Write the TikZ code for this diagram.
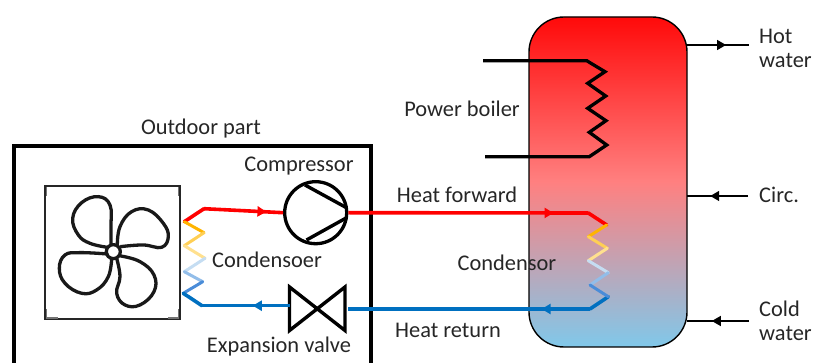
\documentclass[tikz,border=0pt]{standalone}
\usepackage{fontspec}
\setmainfont{Carlito}
\usetikzlibrary{arrows.meta,decorations.markings,calc}
\definecolor{pipered}{HTML}{FF0000}
\definecolor{pipeblue}{HTML}{0070C0}
\definecolor{zA}{HTML}{FFB400}
\definecolor{zB}{HTML}{FFCF55}
\definecolor{zC}{HTML}{FFE08E}
\definecolor{zD}{HTML}{C5DDF2}
\definecolor{zE}{HTML}{92BDE9}
\definecolor{zF}{HTML}{4A8CD8}
\definecolor{txt}{HTML}{262626}
\definecolor{tankTop}{HTML}{FF0A0A}
\definecolor{tankMid}{HTML}{FF8080}
\definecolor{tankBot}{HTML}{80C8EA}
\tikzset{
  lbl/.style={font=\fontsize{22.4}{26}\selectfont,text=txt,inner sep=0pt},
  lblL/.style={lbl,anchor=west},
  pipe/.style={line width=3.6pt,line join=miter},
  zig/.style={line width=3pt,line cap=round},
  thin conn/.style={line width=1.4pt},
  tipat/.style={postaction={decorate},decoration={markings,mark=at position #1 with {\arrow{Triangle[length=9pt,width=10pt]}}}},
  heavy/.style={line width=3.4pt,line join=miter},
}
\begin{document}
\begin{tikzpicture}[x=1pt,y=-1pt]
\useasboundingbox (0,0) rectangle (814,363);
\begin{scope}
\clip (0,0) rectangle (814,363);
% tank
\shadedraw[draw=black,line width=1.4pt,rounded corners=35pt,top color=tankTop,bottom color=tankBot,middle color=tankMid]
  (529,17) rectangle (687,347);
\coordinate (tankH) at (687,45);
\coordinate (tankC) at (687,196);
\coordinate (tankW) at (687,321);
\coordinate (hotE) at (749,45);
\coordinate (circE) at (748,196);
\coordinate (coldE) at (749,321);
\draw[thin conn,tipat=0.63] (tankH) -- (hotE);
\draw[thin conn,tipat=0.62] (circE) -- (tankC);
\draw[thin conn,tipat=0.6] (coldE) -- (tankW);
% outdoor box
\draw[line width=4pt] (14,146) rectangle (371,380);
% fan
\draw[line width=1.4pt,black!85] (45,186) rectangle (180,319);
\draw[line width=1.2pt,black!55]
  (46.5,187) -- (46.5,196) (46.5,309) -- (46.5,318) -- (58,318) (168,318) -- (178.5,318) -- (178.5,309) (178.5,187) -- (178.5,196);
\begin{scope}[x=0.3333pt,y=-0.3333pt,shift={(0,390)},line width=3.3pt,black!90,line cap=round,line join=round]
\node[circle,draw,line width=3.3pt,minimum size=14pt,inner sep=0pt,black!90] (hub) at (340,365) {};
\draw[black!90] plot[smooth,tension=0.7] coordinates {(333,345) (333,290) (330,225) (295,200) (245,218) (218,265) (235,315) (270,340) (322,352)};
\draw[black!90] plot[smooth,tension=0.7] coordinates {(352,346) (360,290) (395,245) (445,240) (490,280) (505,320) (485,352) (430,345) (362,350)};
\draw[black!90] plot[smooth,tension=0.7] coordinates {(362,378) (420,395) (462,435) (462,485) (420,525) (375,525) (350,490) (360,440) (350,385)};
\draw[black!90] plot[smooth,tension=0.7] coordinates {(335,385) (325,440) (290,480) (245,490) (195,460) (178,415) (195,375) (240,368) (322,372)};
\end{scope}
% compressor
\node[circle,draw,line width=3.3pt,minimum size=62pt,inner sep=0pt] (comp) at (315.7,212.7) {};
\coordinate (compA) at (305,185);
\coordinate (compB) at (347,208);
\coordinate (compC) at (306.5,240);
\coordinate (compD) at (347,217.5);
\draw[heavy] (compA) -- (compB) (compC) -- (compD);
% valve
\coordinate (vTL) at (289.5,287);
\coordinate (vBL) at (289.5,330.5);
\coordinate (vTR) at (345,287);
\coordinate (vBR) at (345,330.5);
\draw[heavy] (vTL) -- (vBR) -- (vTR) -- (vBL) -- cycle;
% left heat exchanger
\coordinate (la) at (184.3,221.7);
\coordinate (lb) at (204,208.7);
\coordinate (lc) at (204,232.7);
\coordinate (ld) at (184.3,245.7);
\coordinate (le) at (205,258.3);
\coordinate (lf) at (184.3,271.7);
\coordinate (lg) at (202.7,281.7);
\coordinate (lh) at (183.3,293.3);
\coordinate (li) at (202,305.7);
\draw[pipe,pipered,line cap=round] (la) -- (lb);
\draw[pipe,pipered,tipat=0.79] (lb) -- (comp.west);
\draw[zig,zA] (la) -- (lc);
\draw[zig,zB] (lc) -- (ld);
\draw[zig,zC] (ld) -- (le);
\draw[zig,zD] (le) -- (lf);
\draw[zig,zE] (lf) -- (lg);
\draw[zig,zF] (lg) -- (lh);
\draw[pipe,pipeblue,line cap=round] (lh) -- (li);
\draw[pipe,pipeblue,tipat=0.42] (vTL |- 0,305.7) -- (li);
% forward and return pipes
\coordinate (ra) at (606.7,225);
\coordinate (rb) at (588.3,213);
\coordinate (rc) at (588.3,236.7);
\coordinate (rd) at (607.3,248.3);
\coordinate (re) at (588.3,260.7);
\coordinate (rf) at (608.3,272.7);
\coordinate (rg) at (590,285);
\coordinate (rh) at (608.3,296.7);
\coordinate (ri) at (590,309);
\coordinate (vOut) at (348,309);
\draw[pipe,pipered,tipat=0.855] (comp.east) -- (rb);
\draw[pipe,pipered,line cap=round] (rb) -- (ra);
\draw[pipe,pipeblue,tipat=0.2] (ri) -- (vOut);
\draw[pipe,pipeblue,line cap=round] (ri) -- (rh);
\draw[zig,zA] (ra) -- (rc);
\draw[zig,zB] (rc) -- (rd);
\draw[zig,zC] (rd) -- (re);
\draw[zig,zD] (re) -- (rf);
\draw[zig,zE] (rf) -- (rg);
\draw[zig,zF] (rg) -- (rh);
% power boiler coil
\draw[line width=3.3pt,line join=miter]
  (483,60.7) -- (586.7,60.7) -- (605,71.7) -- (587.7,83.3) -- (605.7,96) -- (587.7,108.3) -- (606,120.7) -- (589.3,132.3) -- (606.7,145) -- (589.3,156.7) -- (485,156.7);
\end{scope}
% labels
\node[lbl] (outdoor) at (201,128.5) {Outdoor part};
\node[lbl] (compL) at (299,166.5) {Compressor};
\node[lbl] (condL) at (267,260) {Condensoer};
\node[lbl] (expL) at (279,347) {Expansion valve};
\node[lbl] (hf) at (457,195) {Heat forward};
\node[lbl] (hr) at (448,330) {Heat return};
\node[lbl] (cond2) at (507,263) {Condensor};
\node[lbl] (pb) at (462,109) {Power boiler};
\node[lblL] (hot) at (759,36) {Hot};
\node[lblL] (hotw) at (759,60.5) {water};
\node[lblL] (circ) at (759,195) {Circ.};
\node[lblL] (cold) at (759,309) {Cold};
\node[lblL] (coldw) at (759,334) {water};
\end{tikzpicture}
\end{document}
